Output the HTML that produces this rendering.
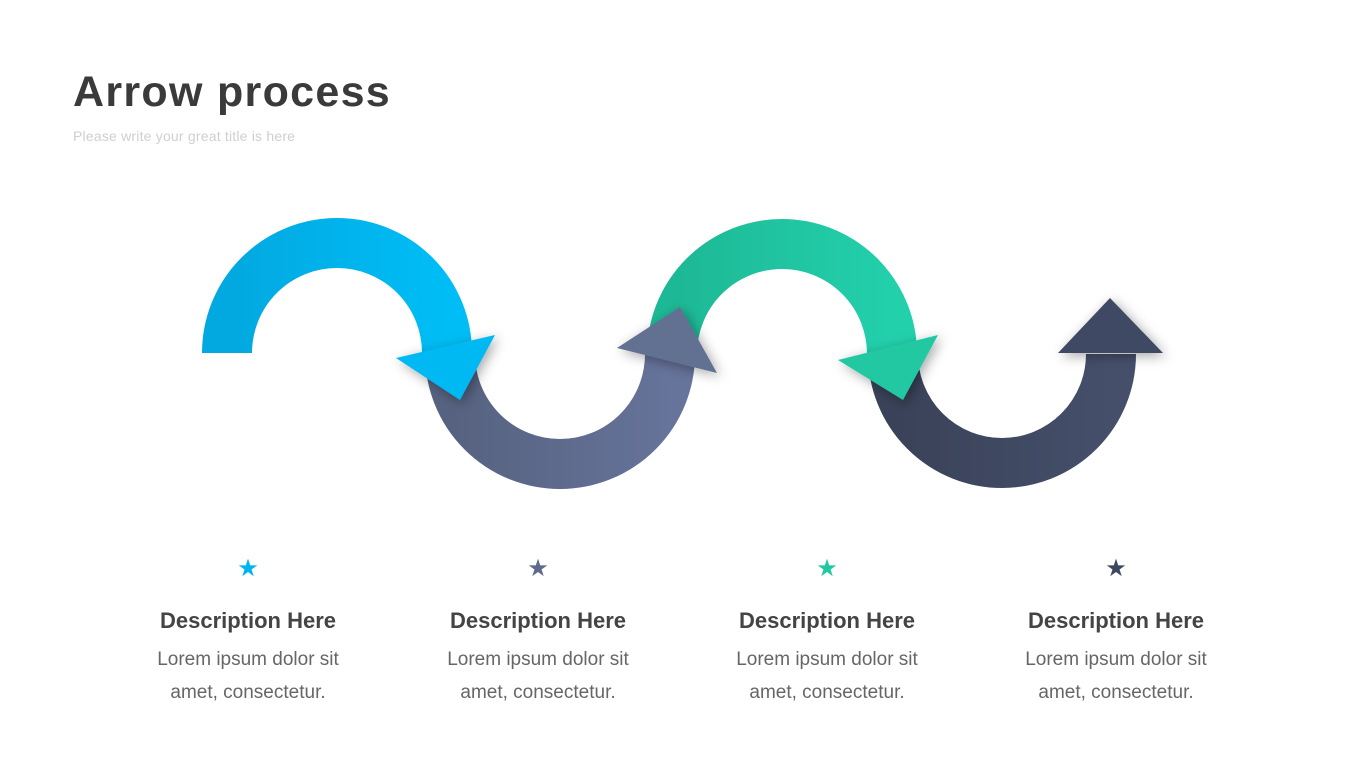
<!DOCTYPE html>
<html><head><meta charset="utf-8"><style>
body{margin:0;width:1365px;height:768px;background:#fff;overflow:hidden;position:relative;font-family:"Liberation Sans",sans-serif}
.t{position:absolute;left:73px;top:68px;font-size:43px;font-weight:bold;color:#3a3a3a;letter-spacing:1.3px}
.s{position:absolute;left:73px;top:128px;font-size:14px;color:#cfcfcf;letter-spacing:0.2px}
.c{position:absolute;width:260px;text-align:center;top:556px}
.star{font-size:24px;line-height:26px}
.h{font-size:22px;font-weight:bold;color:#444;margin-top:26px}
.b{font-size:19px;color:#666;line-height:33px;margin-top:9px}
</style></head><body>
<div class="t">Arrow process</div>
<div class="s">Please write your great title is here</div>
<svg width="1365" height="768" style="position:absolute;left:0;top:0">
<defs>
<filter id="sh" x="-50%" y="-50%" width="200%" height="200%"><feDropShadow dx="3" dy="3" stdDeviation="6" flood-color="#000" flood-opacity="0.35"/></filter>
<linearGradient id="gb" x1="0" x2="1"><stop offset="0" stop-color="#02a8e0"/><stop offset="1" stop-color="#00bdf6"/></linearGradient>
<linearGradient id="gs" x1="0" x2="1"><stop offset="0" stop-color="#56627f"/><stop offset="1" stop-color="#66739a"/></linearGradient>
<linearGradient id="gg" x1="0" x2="1"><stop offset="0" stop-color="#1db895"/><stop offset="1" stop-color="#23d0ac"/></linearGradient>
<linearGradient id="gd" x1="0" x2="1"><stop offset="0" stop-color="#394258"/><stop offset="1" stop-color="#454f6a"/></linearGradient>
</defs>
<path d="M893 354 A109 109 0 0 0 1111 354" fill="none" stroke="url(#gd)" stroke-width="50"/>
<polygon points="1058,353 1110,298 1163,353" fill="#414a63" filter="url(#sh)"/>
<path d="M672 354 A110 110 0 0 1 892 354" fill="none" stroke="url(#gg)" stroke-width="50"/>
<polygon points="838,360 938,335 903,400" fill="#20c8a2" filter="url(#sh)"/>
<path d="M450 354 A110 110 0 0 0 670 354" fill="none" stroke="url(#gs)" stroke-width="50"/>
<polygon points="617,348 680,307 717,373" fill="#626f92" filter="url(#sh)"/>
<path d="M227 353 A110 110 0 0 1 447 353" fill="none" stroke="url(#gb)" stroke-width="50"/>
<polygon points="396,358 495,335 460,400" fill="#00b9f2" filter="url(#sh)"/>
</svg>
<div class="c" style="left:118px"><div class="star" style="color:#00b4ee">★</div><div class="h">Description Here</div><div class="b">Lorem ipsum dolor sit<br>amet, consectetur.</div></div>
<div class="c" style="left:408px"><div class="star" style="color:#5d6a8c">★</div><div class="h">Description Here</div><div class="b">Lorem ipsum dolor sit<br>amet, consectetur.</div></div>
<div class="c" style="left:697px"><div class="star" style="color:#20c8a2">★</div><div class="h">Description Here</div><div class="b">Lorem ipsum dolor sit<br>amet, consectetur.</div></div>
<div class="c" style="left:986px"><div class="star" style="color:#3d4760">★</div><div class="h">Description Here</div><div class="b">Lorem ipsum dolor sit<br>amet, consectetur.</div></div>
</body></html>
